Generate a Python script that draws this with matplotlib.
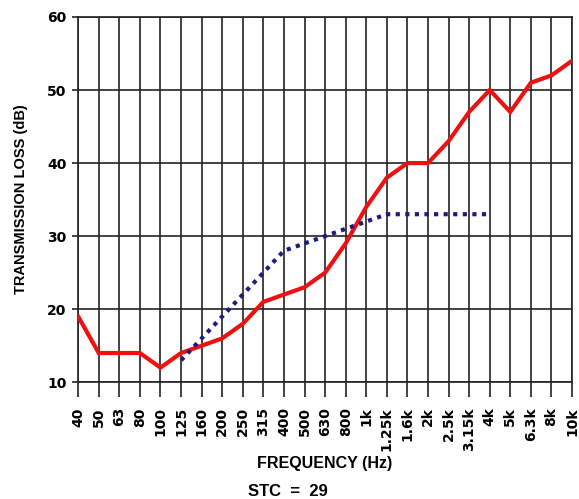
import numpy as np
import matplotlib.pyplot as plt

plt.rcParams['font.family'] = ['Liberation Sans', 'DejaVu Sans']
plt.rcParams['font.weight'] = 'bold'

freqs = ['40', '50', '63', '80', '100', '125', '160', '200', '250', '315', '400', '500',
         '630', '800', '1k', '1.25k', '1.6k', '2k', '2.5k', '3.15k', '4k', '5k', '6.3k', '8k', '10k']
tl = [19, 14, 14, 14, 12, 14, 15, 16, 18, 21, 22, 23,
      25, 29, 34, 38, 40, 40, 43, 47, 50, 47, 51, 52, 54]
# STC contour covers 125 Hz - 4 kHz
stc_freqs = freqs[5:21]
stc = [13, 16, 19, 22, 25, 28, 29, 30, 31, 32, 33, 33, 33, 33, 33, 33]

fig = plt.figure(figsize=(5.79, 4.99), dpi=100)
ax = fig.add_axes([0.135, 0.234, 0.853, 0.732])

x = np.arange(len(freqs))
xs = np.array([freqs.index(f) for f in stc_freqs])

ax.plot(x, tl, color='#ee1111', lw=3.0, solid_joinstyle='miter', zorder=3)
ax.plot(xs, stc, color='#1c1c80', lw=3.0, linestyle=(0, (1.0, 1.3)), zorder=4)

ax.set_xlim(0, len(freqs) - 1)
ax.set_ylim(10, 60)
ax.set_xticks(x)
ax.set_xticklabels(freqs, rotation=90, fontsize=10, fontweight='bold', family='DejaVu Sans')
ax.set_yticks(np.arange(10, 61, 10))
ax.set_yticklabels([str(v) for v in range(10, 61, 10)], fontsize=10, fontweight='bold',
                   family='DejaVu Sans')
ax.tick_params(axis='x', length=11, width=1.2, color='#222222', pad=7)
ax.tick_params(axis='y', length=4.5, width=1.2, color='#222222', pad=4)
ax.grid(True, color='#222222', lw=1.2)
for s in ax.spines.values():
    s.set_color('#222222')
    s.set_linewidth(1.2)

ax.set_ylabel('TRANSMISSION LOSS (dB)', fontsize=10.5, fontweight='bold', labelpad=14)
ax.set_xlabel('FREQUENCY (Hz)', fontsize=11.5, fontweight='bold', labelpad=4)
fig.text(0.497, 0.007, 'STC  =  29', ha='center', fontsize=12, fontweight='bold')

fig.savefig('out.png', dpi=100)
